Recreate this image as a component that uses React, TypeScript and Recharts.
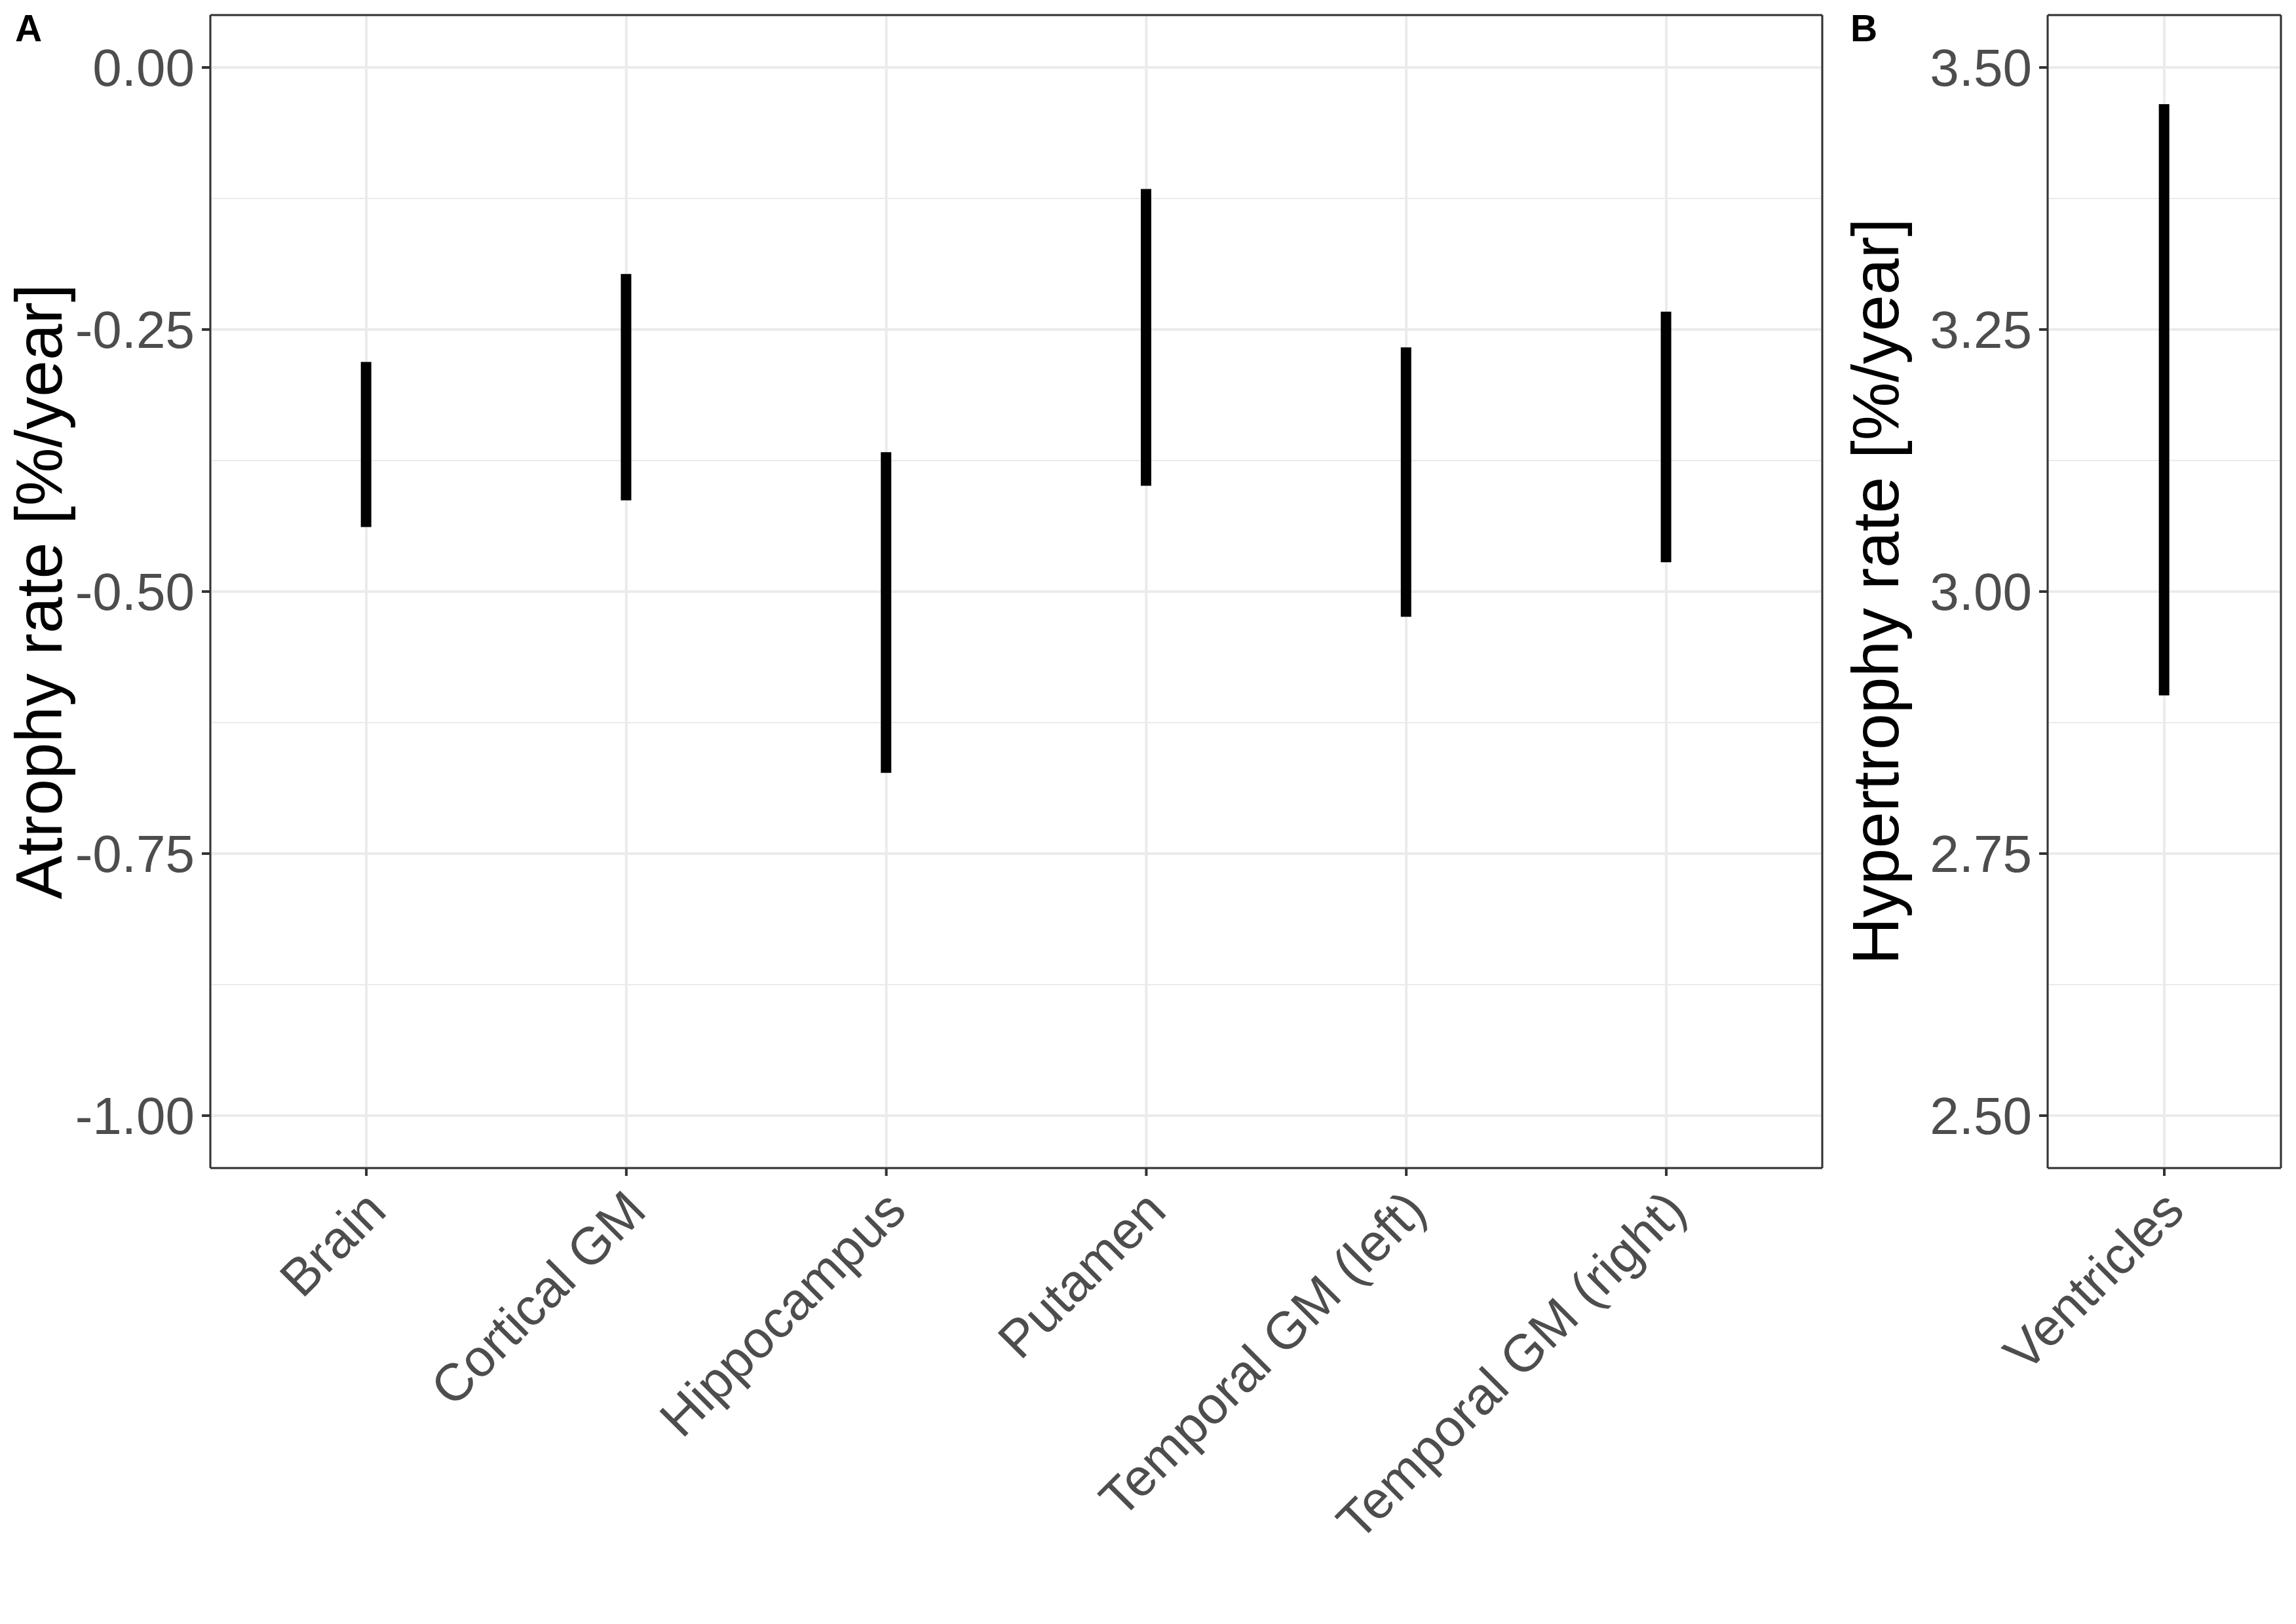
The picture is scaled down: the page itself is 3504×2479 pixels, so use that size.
import React from 'react';
import { ComposedChart, Bar, XAxis, YAxis, CartesianGrid } from 'recharts';

// panel A: atrophy rates (95% interval per region)
const regions = ['Brain', 'Cortical GM', 'Hippocampus', 'Putamen', 'Temporal GM (left)', 'Temporal GM (right)'];
const atrophyLow = [-0.4385, -0.413, -0.673, -0.399, -0.524, -0.472];
const atrophyHigh = [-0.281, -0.197, -0.367, -0.116, -0.267, -0.233];
const atrophyTicks = [-1, -0.75, -0.5, -0.25, 0];
const atrophyMinor = [-0.875, -0.625, -0.375, -0.125];

// panel B: hypertrophy rate
const ventRegions = ['Ventricles'];
const hyperLow = [2.901];
const hyperHigh = [3.465];
const hyperTicks = [2.5, 2.75, 3, 3.25, 3.5];
const hyperMinor = [2.625, 2.875, 3.125, 3.375];

const atrophyData = regions.map((region, i) => ({ region, range: [atrophyLow[i], atrophyHigh[i]] }));
const hyperData = ventRegions.map((region, i) => ({ region, range: [hyperLow[i], hyperHigh[i]] }));

const W = 3504;
const H = 2479;
const FONT = '"Liberation Sans", Arial, Helvetica, sans-serif';
const TICK_COL = '#4D4D4D';
const LINE_COL = '#333333';
const GRID_COL = '#EBEBEB';

const XTick = ({ x, y, payload }: any) => (
  <text
    x={x}
    y={y}
    dy={48}
    transform={`rotate(-45, ${x}, ${y})`}
    textAnchor="end"
    fill={TICK_COL}
    fontSize={80}
    fontFamily={FONT}
  >
    {payload.value}
  </text>
);

const Panel = ({ left, width, data, yDomain, yTicks, yMinor, yWidth, rightMargin, padding, title, titleX }: any) => {
  const border = { stroke: LINE_COL, strokeWidth: 3 };
  return (
    <div style={{ position: 'absolute', left, top: 0 }}>
      <ComposedChart
        width={width}
        height={H}
        data={data}
        margin={{ top: 22, right: rightMargin - 1, bottom: 396, left: 0 }}
      >
        <CartesianGrid horizontalValues={yMinor} vertical={false} stroke={GRID_COL} strokeWidth={2} />
        <CartesianGrid stroke={GRID_COL} strokeWidth={4} />
        <XAxis
          dataKey="region"
          type="category"
          padding={{ left: padding, right: padding }}
          height={300}
          interval={0}
          tickSize={12}
          tickMargin={23}
          tick={<XTick />}
          tickLine={{ stroke: LINE_COL, strokeWidth: 4 }}
          axisLine={border}
        />
        <XAxis
          xAxisId="top"
          orientation="top"
          dataKey="region"
          type="category"
          padding={{ left: padding, right: padding }}
          height={1}
          tick={false}
          tickLine={false}
          axisLine={border}
        />
        <YAxis
          type="number"
          domain={yDomain}
          ticks={yTicks}
          allowDataOverflow
          interval={0}
          width={yWidth}
          tickSize={13}
          tickMargin={11}
          tickFormatter={(v: number) => v.toFixed(2)}
          tick={{ fill: TICK_COL, fontSize: 80, fontFamily: FONT }}
          tickLine={{ stroke: LINE_COL, strokeWidth: 4 }}
          axisLine={border}
          label={{
            content: (props: any) => {
              const vb = props.viewBox || { x: 0, y: 23, height: 1760 };
              const cx = vb.x + titleX;
              const cy = vb.y + vb.height / 2;
              return (
                <text
                  x={cx}
                  y={cy}
                  transform={`rotate(-90, ${cx}, ${cy})`}
                  textAnchor="middle"
                  fill="#000"
                  fontSize={100}
                  fontFamily={FONT}
                >
                  {title}
                </text>
              );
            },
          }}
        />
        <YAxis
          yAxisId="right"
          orientation="right"
          type="number"
          domain={yDomain}
          allowDataOverflow
          width={1}
          tick={false}
          tickLine={false}
          axisLine={border}
        />
        {/* invisible twin so the top/right border axes are drawn */}
        <Bar xAxisId="top" yAxisId="right" dataKey="range" fill="none" barSize={16} isAnimationActive={false} />
        <Bar dataKey="range" fill="#000" barSize={16} isAnimationActive={false} />
      </ComposedChart>
    </div>
  );
};

export default function App() {
  return (
    <div
      style={{
        position: 'absolute',
        left: 0,
        top: 0,
        width: W,
        height: H,
        background: '#fff',
        overflow: 'hidden',
        fontFamily: FONT,
      }}
    >
      <Panel
        left={0}
        width={2800}
        data={atrophyData}
        yDomain={[-1.05, 0.05]}
        yTicks={atrophyTicks}
        yMinor={atrophyMinor}
        yWidth={321}
        rightMargin={19}
        padding={2460 / 62}
        title="Atrophy rate [%/year]"
        titleX={94}
      />
      <Panel
        left={2800}
        width={704}
        data={hyperData}
        yDomain={[2.45, 3.55]}
        yTicks={hyperTicks}
        yMinor={hyperMinor}
        yWidth={325}
        rightMargin={23}
        padding={356 / 12}
        title="Hypertrophy rate [%/year]"
        titleX={97}
      />
      <svg width={W} height={H} style={{ position: 'absolute', left: 0, top: 0, pointerEvents: 'none' }}>
        <text x={23} y={63} fontSize={57} fontWeight="bold" fontFamily={FONT} fill="#000">A</text>
        <text x={2824} y={63} fontSize={57} fontWeight="bold" fontFamily={FONT} fill="#000">B</text>
      </svg>
    </div>
  );
}
